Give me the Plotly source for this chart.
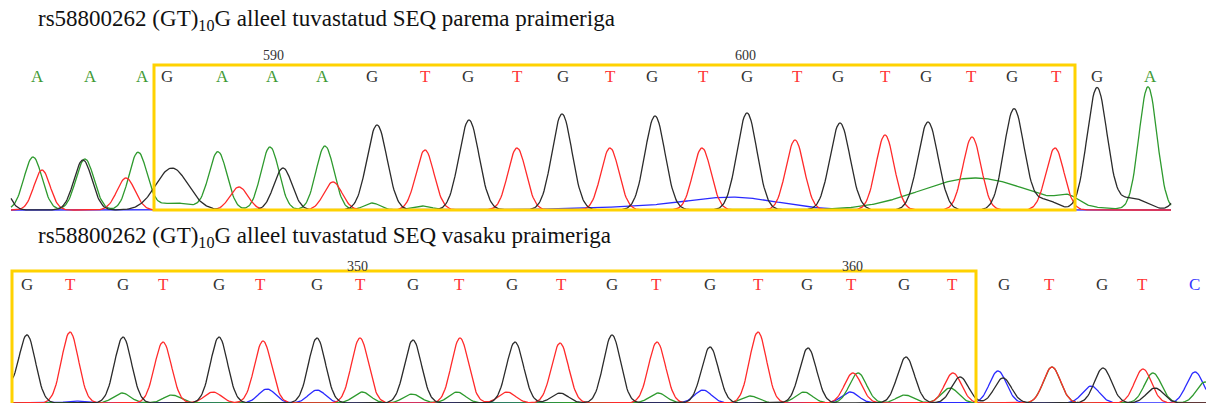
import numpy as np
import plotly.graph_objects as go

W, H = 1206, 403          # browser window / figure size

# ---------------- data ----------------
title_top = "rs58800262 (GT)<sub>10</sub>G alleel tuvastatud SEQ parema praimeriga"
title_bot = "rs58800262 (GT)<sub>10</sub>G alleel tuvastatud SEQ vasaku praimeriga"

# base calls (letters) and their scan positions
top_bases = list("AAAGAAAGTGTGTGTGTGTGTGTGA")
top_base_x = [37, 90, 142, 167, 222, 272, 322, 372, 425, 468, 517, 563, 610, 652,
              703, 747, 797, 838, 885, 926, 971, 1012, 1056, 1097, 1150]
bot_bases = list("GTGTGTGTGTGTGTGTGTGTGTGTC")
bot_base_x = [27, 70, 123, 163, 219, 260, 317, 360, 413, 459, 512, 561, 612, 656,
              710, 758, 807, 851, 904, 952, 1004, 1049, 1102, 1142, 1194]

# position ruler labels
top_ruler = ["590", "600"]
top_ruler_x = [273, 745]
bot_ruler = ["350", "360"]
bot_ruler_x = [357, 852]

# boxed region (scan positions)
top_box = [154, 1075]
bot_box = [12, 976]

# top chromatogram peaks: position, height, width
top_G_pos = [0, 83, 172, 283, 377, 469, 562, 655, 747, 840, 928, 1014, 1045, 1097, 1132, 1185]
top_G_h = [30, 50, 42, 42, 85, 90, 96, 94, 97, 87, 88, 101, 10, 122, 12, 30]
top_G_w = [8, 9, 16, 9, 10, 10, 10, 10, 10, 10, 10, 10, 12, 10, 14, 8]

top_A_pos = [33, 85, 138, 175, 218, 270, 325, 372, 422, 975, 1068, 1148]
top_A_h = [53, 51, 57, 7, 58, 63, 64, 7, 4, 32, 8, 123]
top_A_w = [9, 9, 9, 18, 9, 9, 9, 8, 10, 55, 10, 9]

top_T_pos = [42, 126, 239, 333, 425, 517, 610, 702, 795, 885, 972, 1055]
top_T_h = [40, 32, 23, 28, 60, 62, 62, 62, 70, 75, 73, 62]
top_T_w = [8, 9, 9, 9, 9, 9, 9, 9, 9, 9, 9, 9]

top_C_pos = [640, 735]
top_C_h = [3, 12]
top_C_w = [60, 45]

# bottom chromatogram peaks
bot_G_pos = [0, 27, 123, 219, 317, 413, 515, 560, 612, 710, 808, 906, 960, 1003, 1103, 1155]
bot_G_h = [25, 68, 66, 66, 65, 63, 61, 10, 68, 56, 55, 46, 26, 25, 35, 15]
bot_T_pos = [70, 163, 213, 263, 360, 460, 507, 560, 657, 758, 853, 953, 1052, 1143]
bot_T_h = [71, 61, 11, 62, 65, 65, 11, 60, 61, 71, 30, 30, 36, 34]
bot_A_pos = [122, 172, 362, 412, 457, 658, 750, 804, 858, 905, 950, 1052, 1153, 1205]
bot_A_h = [10, 8, 11, 9, 11, 10, 7, 11, 30, 8, 15, 36, 30, 21]
bot_C_pos = [75, 267, 317, 703, 850, 998, 1091, 1195]
bot_C_h = [2, 14, 13, 13, 11, 32, 17, 31]

# ---------------- styling ----------------
COL = {"G": "#2b2b2b", "A": "#2e9a2e", "T": "#ff2a2a", "C": "#2a2aff"}
LETTER_COL = {"G": "#333333", "A": "#3f9a35", "T": "#ff3535", "C": "#3535ff"}
YELLOW = "#FFD200"
SERIF = "Liberation Serif, Times New Roman, serif"


def trace_curve(x, pos, h, w):
    y = np.zeros_like(x, dtype=float)
    for p, hh, ww in zip(pos, h, w):
        y += hh * np.exp(-((x - p) ** 2) / (2.0 * ww ** 2))
    return y


def py(p):
    """screen pixel row -> paper coordinate"""
    return 1 - p / H


fig = go.Figure()

# top panel traces (axis x / y)
xt = np.arange(11, 1172, 1.0)
for ch, pos, h, w in [("C", top_C_pos, top_C_h, top_C_w),
                      ("A", top_A_pos, top_A_h, top_A_w),
                      ("T", top_T_pos, top_T_h, top_T_w),
                      ("G", top_G_pos, top_G_h, top_G_w)]:
    fig.add_trace(go.Scatter(x=xt, y=trace_curve(xt, pos, h, w), mode="lines",
                             line=dict(color=COL[ch], width=1.3),
                             xaxis="x", yaxis="y", hoverinfo="skip", showlegend=False))

# bottom panel traces (axis x2 / y2)
xb = np.arange(12, 1207, 1.0)
for ch, pos, h in [("C", bot_C_pos, bot_C_h),
                   ("A", bot_A_pos, bot_A_h),
                   ("T", bot_T_pos, bot_T_h),
                   ("G", bot_G_pos, bot_G_h)]:
    w = [8.5] * len(pos)
    fig.add_trace(go.Scatter(x=xb, y=trace_curve(xb, pos, h, w), mode="lines",
                             line=dict(color=COL[ch], width=1.3),
                             xaxis="x2", yaxis="y2", hoverinfo="skip", showlegend=False))

annotations = []
# titles
for txt, prow in [(title_top, 20), (title_bot, 237)]:
    annotations.append(dict(text=txt, x=36, xref="x", y=py(prow), yref="paper",
                            xanchor="left", yanchor="middle", showarrow=False,
                            font=dict(family=SERIF, size=23, color="#111111")))
# base letters
for bases, bx, prow in [(top_bases, top_base_x, 76), (bot_bases, bot_base_x, 284)]:
    for b, x in zip(bases, bx):
        annotations.append(dict(text=b, x=x, xref="x", y=py(prow), yref="paper",
                                xanchor="center", yanchor="middle", showarrow=False,
                                font=dict(family=SERIF, size=17, color=LETTER_COL[b])))
# ruler numbers
for labels, lx, prow in [(top_ruler, top_ruler_x, 56), (bot_ruler, bot_ruler_x, 266)]:
    for t, x in zip(labels, lx):
        annotations.append(dict(text=t, x=x, xref="x", y=py(prow), yref="paper",
                                xanchor="center", yanchor="middle", showarrow=False,
                                font=dict(family=SERIF, size=14, color="#333333")))

shapes = [
    dict(type="rect", xref="x", yref="paper", x0=top_box[0], x1=top_box[1],
         y0=py(210), y1=py(65), line=dict(color=YELLOW, width=3), fillcolor="rgba(0,0,0,0)"),
    dict(type="rect", xref="x", yref="paper", x0=bot_box[0], x1=bot_box[1],
         y0=py(415), y1=py(271), line=dict(color=YELLOW, width=3), fillcolor="rgba(0,0,0,0)"),
]

axis_off = dict(showgrid=False, zeroline=False, showticklabels=False, ticks="", showline=False,
                fixedrange=True)
fig.update_layout(
    width=W, height=H, margin=dict(l=0, r=0, t=0, b=0),
    paper_bgcolor="white", plot_bgcolor="white", hovermode=False, dragmode=False,
    # x axes map scan position 1:1 onto screen pixels
    xaxis=dict(range=[0, W], domain=[0, 1], **axis_off),
    # top panel: baseline at screen row 210
    yaxis=dict(range=[-(H - 210), 210], domain=[0, 1], **axis_off),
    xaxis2=dict(range=[0, W], domain=[0, 1], overlaying="x", anchor="y2", **axis_off),
    # bottom panel: baseline at screen row 403
    yaxis2=dict(range=[0, H], domain=[0, 1], overlaying="y", anchor="x2", **axis_off),
    annotations=annotations, shapes=shapes,
)

# remove the default page margin so the figure fills the window exactly
fig.write_html("out.html",
               config={"displayModeBar": False, "staticPlot": True},
               post_script="document.body.style.margin='0';document.body.style.overflow='hidden';")
